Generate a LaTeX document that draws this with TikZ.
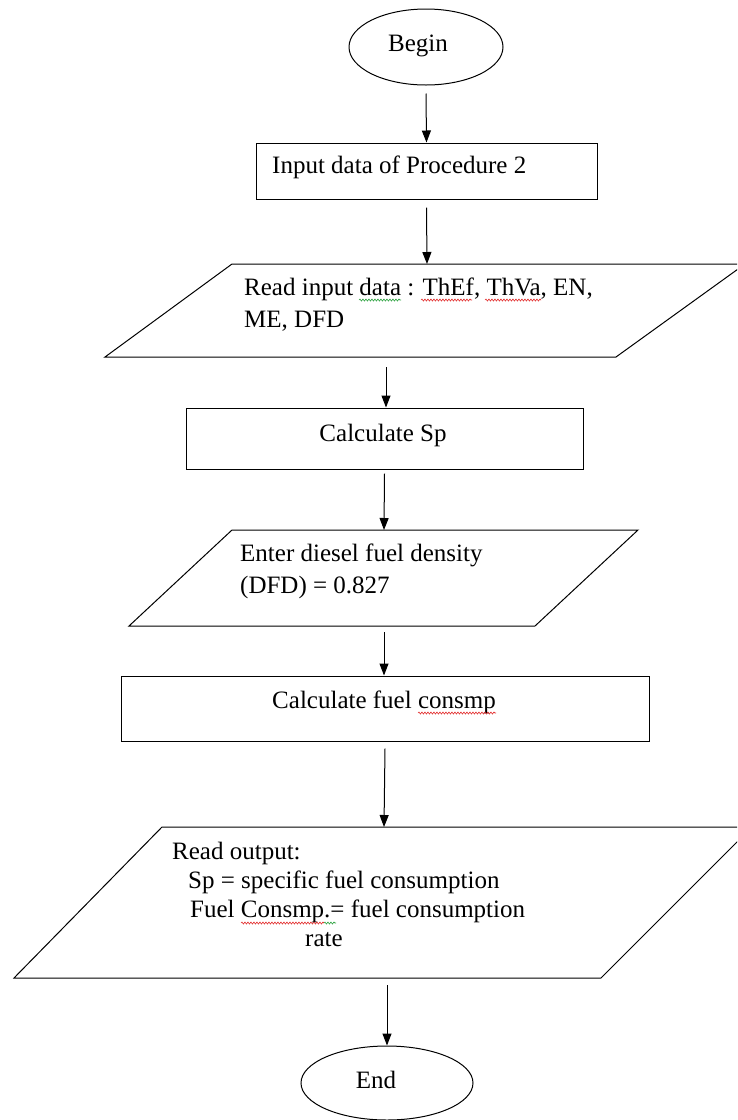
\documentclass[tikz,border=0pt]{standalone}
\usepackage{fontspec}
\setmainfont{Liberation Serif}
\usetikzlibrary{arrows.meta,shapes.geometric,decorations.pathmorphing}
\definecolor{spellred}{RGB}{225,40,40}
\definecolor{spellgreen}{RGB}{40,160,60}
\begin{document}
\begin{tikzpicture}[x=1pt,y=-1pt,
  term/.style={draw, ellipse, line width=1pt, inner sep=0pt},
  procbox/.style={draw, rectangle, line width=1pt, inner sep=0pt},
  io/.style={draw, line width=1pt, line join=miter},
  txt/.style={font=\fontsize{25}{32}\selectfont, inner sep=0pt, align=left},
  arr/.style={line width=1pt, -{Triangle[width=9pt,length=12pt]}},
  squig/.style={line width=0.6pt, decorate, decoration={snake, amplitude=1pt, segment length=3pt}}]
\useasboundingbox (0,0) rectangle (737,1120);
\clip (0,0) rectangle (737,1120);

% Begin
\node[term, minimum width=154pt, minimum height=76pt] (begin) at (426,47) {};
\node[txt, anchor=base] (tbegin) at (418,51) {Begin};

% Input data box
\node[procbox, minimum width=341pt, minimum height=56pt] (in1) at (426.5,171) {};
\node[txt, anchor=base west] (tin1) at (272,173) {Input data of Procedure 2};

% Parallelogram 1
\draw[io] (105,357) -- (616,357) -- (745,264) -- (232,264) -- cycle;
\coordinate (p1in) at (427,264);
\coordinate (p1out) at (386,367);
\node[txt, anchor=base west] (tp1) at (244,327) {Read input data : ThEf, ThVa, EN,\\ME, DFD};
\draw[squig, spellgreen] (359,300) -- (401,300);
\draw[squig, spellred] (421,300) -- (472,300);
\draw[squig, spellred] (485,300) -- (541,300);

% Calculate Sp
\node[procbox, minimum width=397pt, minimum height=61pt] (cs) at (384.5,438.5) {};
\node[txt, anchor=base] (tcs) at (383,441) {Calculate Sp};

% Parallelogram 2
\draw[io] (129,626) -- (535,626) -- (638,530) -- (232,530) -- cycle;
\coordinate (p2in) at (384,530);
\coordinate (p2out) at (384,632);
\node[txt, anchor=base west] (tp2) at (240,593) {Enter diesel fuel density\\(DFD) = 0.827};

% Calculate fuel consmp
\node[procbox, minimum width=528pt, minimum height=65pt] (cf) at (385,708.5) {};
\node[txt, anchor=base] (tcf) at (384,708) {Calculate fuel consmp};
\draw[squig, spellred] (418,713) -- (496,713);

% Parallelogram 3
\draw[io] (14,978) -- (601,978) -- (752,827) -- (162,827) -- cycle;
\coordinate (p3in) at (384,827);
\coordinate (p3out) at (387,985);
\node[txt, anchor=base west, font=\fontsize{25}{29}\selectfont] (tp3) at (172,946) {Read output:\\
\hspace*{16pt}Sp = specific fuel consumption\\
\hspace*{18pt}Fuel Consmp.= fuel consumption\\
\hspace*{133pt}rate};
\draw[squig, spellred] (241,923) -- (324,923);
\draw[squig, spellgreen] (324,923) -- (336,923);

% End
\node[term, minimum width=172pt, minimum height=74pt] (finish) at (387,1083) {};
\node[txt, anchor=base] (tend) at (376,1088) {End};

% Connectors
\draw[arr] ([yshift=-8pt]begin.south) -- (in1.north);
\draw[arr] ([yshift=-8pt]in1.south) -- (p1in);
\draw[arr] (p1out) -- (p1out |- cs.north);
\draw[arr] ([yshift=-4pt]cs.south) -- (p2in);
\draw[arr] (p2out) -- (p2out |- cf.north);
\draw[arr] ([yshift=-7pt]cf.south) -- (p3in);
\draw[arr] (p3out) -- (finish.north);
\end{tikzpicture}
\end{document}
